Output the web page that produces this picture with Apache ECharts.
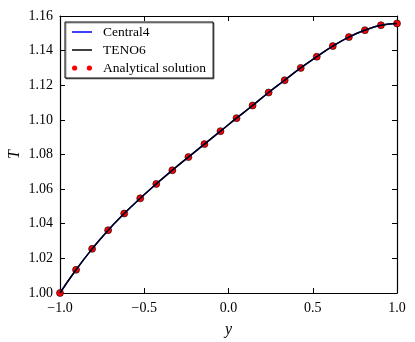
<!DOCTYPE html>
<html>
<head>
<meta charset="utf-8">
<script src="https://cdn.jsdelivr.net/npm/echarts@6/dist/echarts.min.js"></script>
<style>
  html, body { margin: 0; padding: 0; background: #fff; }
  #chart { width: 415px; height: 342px; }
</style>
</head>
<body>
<div id="chart"></div>
<script>
// coordinates y
var yCoord = [-1, -0.9048, -0.8095, -0.7143, -0.6190, -0.5238, -0.4286, -0.3333, -0.2381, -0.1429, -0.0476,
              0.0476, 0.1429, 0.2381, 0.3333, 0.4286, 0.5238, 0.6190, 0.7143, 0.8095, 0.9048, 1];
// temperature, analytical solution (red dots)
var tExact = [1.0000, 1.0134, 1.0255, 1.0363, 1.0459, 1.0547, 1.0630, 1.0709, 1.0785, 1.0860, 1.0935,
              1.1010, 1.1083, 1.1158, 1.1229, 1.1300, 1.1365, 1.1426, 1.1478, 1.1518, 1.1547, 1.1557];
// numerical results lie on top of the analytical values
var tCentral4 = [1.0000, 1.0134, 1.0255, 1.0363, 1.0459, 1.0547, 1.0630, 1.0709, 1.0785, 1.0860, 1.0935,
                 1.1010, 1.1083, 1.1158, 1.1229, 1.1300, 1.1365, 1.1426, 1.1478, 1.1518, 1.1547, 1.1557];
var tTeno6 = [1.0000, 1.0134, 1.0255, 1.0363, 1.0459, 1.0547, 1.0630, 1.0709, 1.0785, 1.0860, 1.0935,
              1.1010, 1.1083, 1.1158, 1.1229, 1.1300, 1.1365, 1.1426, 1.1478, 1.1518, 1.1547, 1.1557];
var xTicks = [-1.0, -0.5, 0.0, 0.5, 1.0];
var yTicks = [1.00, 1.02, 1.04, 1.06, 1.08, 1.10, 1.12, 1.14, 1.16];

function pairs(xs, ys) {
    return xs.map(function (v, i) { return [v, ys[i]]; });
}

var font = 'Liberation Serif';
var tickStyle = { inside: true, length: 5, lineStyle: { color: '#000', width: 1 } };
var lineAxis = { onZero: false, lineStyle: { color: '#000', width: 1.2 } };

// legend icons: thin line / two dots (corner points keep the 20x10 box)
var lineIcon = 'path://M0,0 L0,0 M0,4.25 L20,4.25 L20,5.75 L0,5.75 Z M20,10 L20,10';
var dotsIcon = 'path://M0,0 L0,0 M0,5 a2.6,2.6 0 1,0 5.2,0 a2.6,2.6 0 1,0 -5.2,0 ' +
               'M14.8,5 a2.6,2.6 0 1,0 5.2,0 a2.6,2.6 0 1,0 -5.2,0 M20,10 L20,10';

var option = {
    animation: false,
    textStyle: { fontFamily: font },
    grid: { left: 60, right: 18, top: 16, bottom: 49, outerBoundsMode: 'none', containLabel: false },
    legend: {
        orient: 'vertical',
        left: 65,
        top: 22,
        padding: [3, 7, 3, 7],
        itemGap: 4,
        itemWidth: 20,
        itemHeight: 10,
        backgroundColor: '#fff',
        borderColor: '#000',
        borderWidth: 1,
        borderRadius: 0,
        shadowColor: 'rgba(0,0,0,0.4)',
        shadowOffsetX: 1,
        shadowOffsetY: 1,
        shadowBlur: 0,
        textStyle: { fontFamily: font, fontSize: 13.5, color: '#000', padding: [0, 0, 0, 6] },
        data: [
            { name: 'Central4', icon: lineIcon },
            { name: 'TENO6', icon: lineIcon },
            { name: 'Analytical solution', icon: dotsIcon, itemStyle: { borderWidth: 0 } }
        ]
    },
    xAxis: [
        {
            type: 'value', min: -1, max: 1, interval: 0.5, position: 'bottom',
            axisLine: lineAxis, axisTick: tickStyle, splitLine: { show: false },
            axisLabel: {
                color: '#000', fontSize: 14, margin: 8,
                formatter: function (v) {
                    return v.toFixed(1).replace('-', '\u2212');
                }
            },
            name: 'y', nameLocation: 'middle', nameGap: 29, nameMoveOverlap: false,
            nameTextStyle: { fontFamily: font, fontStyle: 'italic', fontSize: 16, color: '#000' }
        },
        {
            type: 'value', min: -1, max: 1, interval: 0.5, position: 'top',
            axisLine: lineAxis, axisTick: tickStyle, splitLine: { show: false },
            axisLabel: { show: false }
        }
    ],
    yAxis: [
        {
            type: 'value', min: 1.00, max: 1.16, interval: 0.02, position: 'left',
            axisLine: lineAxis, axisTick: tickStyle, splitLine: { show: false },
            axisLabel: {
                color: '#000', fontSize: 14, margin: 7,
                formatter: function (v) { return v.toFixed(2); }
            },
            name: 'T', nameLocation: 'middle', nameGap: 37, nameRotate: 90, nameMoveOverlap: false,
            nameTextStyle: { fontFamily: font, fontStyle: 'italic', fontSize: 16, color: '#000' }
        },
        {
            type: 'value', min: 1.00, max: 1.16, interval: 0.02, position: 'right',
            axisLine: lineAxis, axisTick: tickStyle, splitLine: { show: false },
            axisLabel: { show: false }
        }
    ],
    series: [
        {
            name: 'Central4', type: 'line', smooth: true, symbol: 'none',
            lineStyle: { color: '#0000ff', width: 1.5 }, itemStyle: { color: '#0000ff' },
            data: pairs(yCoord, tCentral4)
        },
        {
            name: 'TENO6', type: 'line', smooth: true, symbol: 'none',
            lineStyle: { color: '#000', width: 1.5 }, itemStyle: { color: '#000' },
            data: pairs(yCoord, tTeno6)
        },
        {
            name: 'Analytical solution', type: 'scatter', symbolSize: 7,
            itemStyle: { color: '#ff0000', borderColor: '#000', borderWidth: 0.6, opacity: 1 },
            data: pairs(yCoord, tExact)
        }
    ]
};

echarts.init(document.getElementById('chart')).setOption(option);
</script>
</body>
</html>
